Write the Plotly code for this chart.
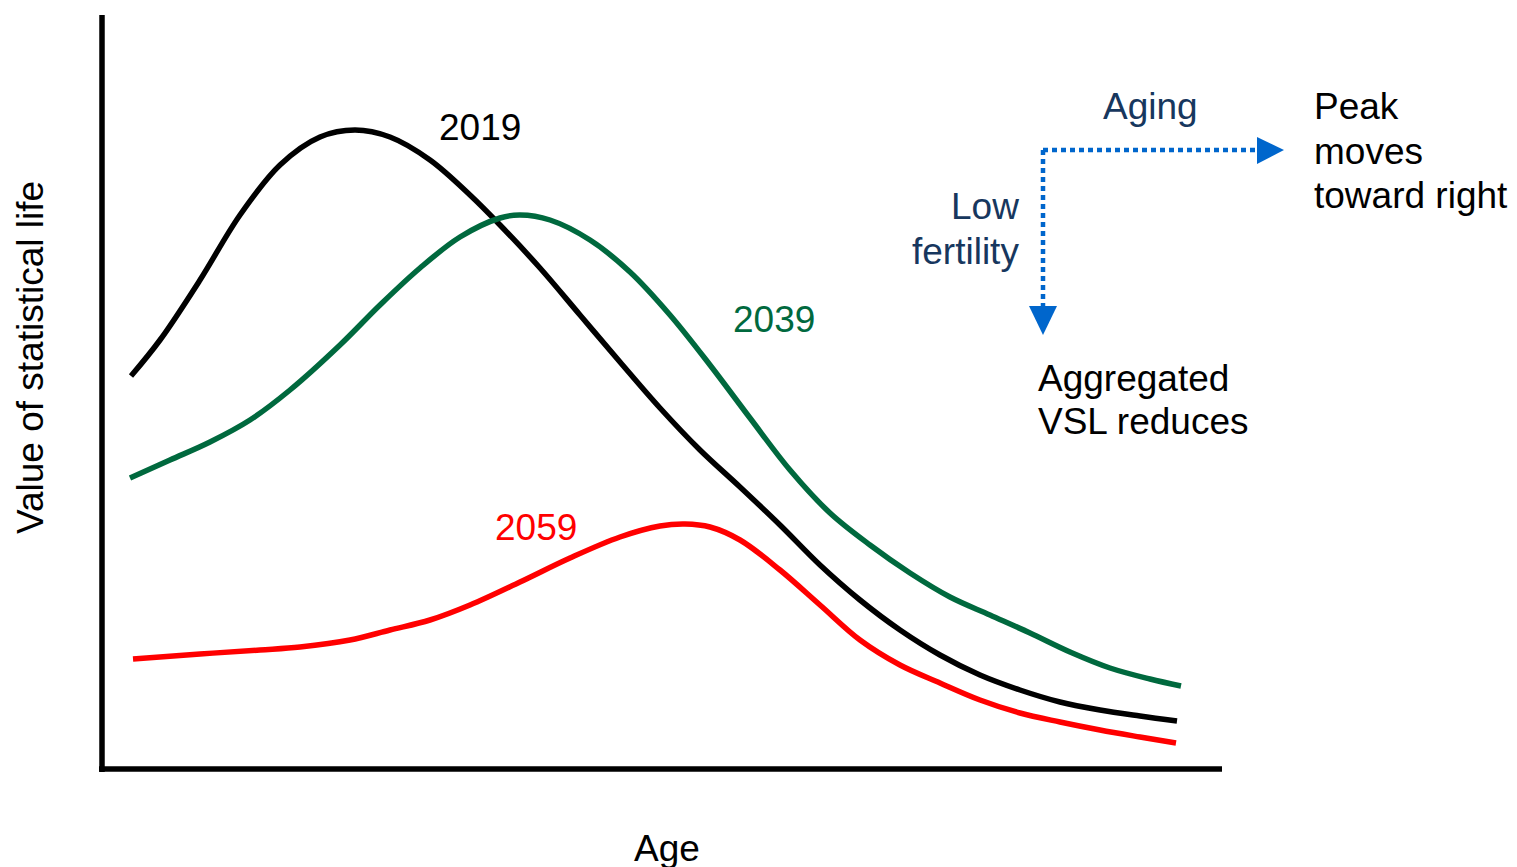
import plotly.graph_objects as go

# Curve data (arbitrary units: age along x, value of statistical life along y)
age_2019 = [29, 58, 98, 138, 178, 218, 253, 288, 328, 368, 398, 438, 478, 518, 558, 598, 638, 678, 718, 758, 798, 838, 878, 918, 958, 998, 1038, 1075]
vsl_2019 = [393, 429, 489, 554, 604, 632, 639, 632, 609, 574, 544, 501, 454, 407, 361, 319, 282, 244, 204, 169, 139, 114, 94, 79, 67, 59, 53, 48]

age_2039 = [28, 68, 108, 148, 188, 238, 278, 318, 358, 398, 418, 448, 488, 528, 568, 608, 648, 688, 728, 768, 808, 848, 888, 928, 968, 1008, 1048, 1079]
vsl_2039 = [291, 309, 327, 349, 379, 424, 464, 501, 532, 551, 554, 549, 529, 497, 454, 404, 351, 299, 256, 224, 196, 172, 154, 136, 117, 101, 90, 83]

age_2059 = [31, 98, 158, 198, 248, 288, 328, 368, 418, 468, 518, 558, 583, 608, 638, 678, 718, 758, 798, 838, 878, 918, 958, 998, 1038, 1074]
vsl_2059 = [110, 115, 119, 122, 129, 139, 149, 164, 187, 211, 232, 243, 245, 242, 229, 199, 164, 129, 104, 86, 69, 56, 47, 39, 32, 26]

series_names = ["2019", "2039", "2059"]
series_colors = ["#000000", "#00693E", "#FF0000"]

OFF = 8  # page body margin
W, H = 1517 - OFF, 867 - OFF
L, R, T, B = 102 - OFF, 1222 - OFF, 15 - OFF, 769 - OFF
XMAX, YMAX = R - L, B - T

def px(x):
    return (x - OFF - L) / (R - L)

def py(y):
    return (B - (y - OFF)) / (B - T)

FONT = "Liberation Sans, Arial, sans-serif"
FS = 37
NAVY = "#17375E"
BLUE = "#0066CC"

fig = go.Figure()
for xs, ys, name, col in zip([age_2019, age_2039, age_2059], [vsl_2019, vsl_2039, vsl_2059], series_names, series_colors):
    fig.add_trace(go.Scatter(x=xs, y=ys, mode="lines", name=name,
                             line=dict(color=col, width=5.5, shape="spline", smoothing=1.0),
                             hoverinfo="skip"))

shapes = []
# axes
shapes.append(dict(type="line", xref="paper", yref="paper", x0=px(102), x1=px(102), y0=py(15), y1=py(772),
                   line=dict(color="black", width=5.5)))
shapes.append(dict(type="line", xref="paper", yref="paper", x0=px(99), x1=px(1222), y0=py(769), y1=py(769),
                   line=dict(color="black", width=5.5)))
# dotted arrows
shapes.append(dict(type="line", xref="paper", yref="paper", x0=px(1043), x1=px(1259), y0=py(150), y1=py(150),
                   line=dict(color=BLUE, width=4.5, dash="5px,4px")))
shapes.append(dict(type="line", xref="paper", yref="paper", x0=px(1043), x1=px(1043), y0=py(150), y1=py(308),
                   line=dict(color=BLUE, width=4.5, dash="5px,4px")))

def tri(points):
    return "M " + " L ".join(f"{px(a):.5f},{py(b):.5f}" for a, b in points) + " Z"

shapes.append(dict(type="path", xref="paper", yref="paper", path=tri([(1257, 137), (1284, 150), (1257, 164)]),
                   fillcolor=BLUE, line=dict(color=BLUE, width=0)))
shapes.append(dict(type="path", xref="paper", yref="paper", path=tri([(1029, 306), (1057, 306), (1043, 335)]),
                   fillcolor=BLUE, line=dict(color=BLUE, width=0)))

annotations = []
def txt(text, x, y, color="black", xanchor="center", angle=0):
    annotations.append(dict(text=text, xref="paper", yref="paper", x=px(x), y=py(y),
                            xanchor=xanchor, yanchor="middle", showarrow=False, textangle=angle,
                            font=dict(family=FONT, size=FS, color=color)))

txt("2019", 480, 127)
txt("2039", 774, 319, color=series_colors[1])
txt("2059", 536, 527, color=series_colors[2])
txt("Aging", 1150, 107, color=NAVY)
txt("Low", 1021, 207, color=NAVY, xanchor="right")
txt("fertility", 1021, 251, color=NAVY, xanchor="right")
txt("Peak", 1312, 106, xanchor="left")
txt("moves", 1312, 151, xanchor="left")
txt("toward right", 1312, 196, xanchor="left")
txt("Aggregated", 1036, 378, xanchor="left")
txt("VSL reduces", 1036, 422, xanchor="left")
txt("Age", 667, 849)
txt("Value of statistical life", 31, 358, angle=-90)

fig.update_layout(
    width=W, height=H,
    margin=dict(l=L, r=W - R, t=T, b=H - B, pad=0),
    paper_bgcolor="white", plot_bgcolor="white",
    showlegend=False,
    xaxis=dict(range=[0, XMAX], visible=False, fixedrange=True),
    yaxis=dict(range=[0, YMAX], visible=False, fixedrange=True),
    shapes=shapes, annotations=annotations,
)

fig.write_html("out.html")
